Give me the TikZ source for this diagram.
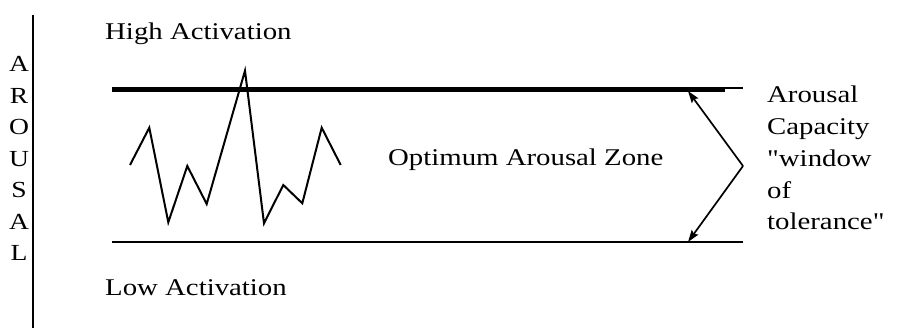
\documentclass[tikz,border=0pt]{standalone}
\usepackage{fontspec}
\newfontfamily\gfont{Liberation Serif}[FakeStretch=1.2]
\usetikzlibrary{arrows.meta}
\begin{document}
\begin{tikzpicture}[x=1pt,y=-1pt,
  lbl/.style={font=\gfont\fontsize{24}{28}\selectfont, inner sep=0pt, anchor=base west},
  axislbl/.style={font=\gfont\fontsize{23}{28}\selectfont, inner sep=0pt, anchor=base},
  thinline/.style={line width=2pt},
  thickline/.style={line width=5pt},
  zig/.style={line width=2pt, line join=miter},
  capar/.style={line width=1.7pt, -{Stealth[length=12pt,width=8pt,inset=2pt]}}]
\useasboundingbox (0,0) rectangle (906,328);
% vertical axis
\coordinate (axtop) at (33,15);
\coordinate (axbot) at (33,328);
\draw[thinline] (axtop) -- (axbot);
% AROUSAL letters
\node[axislbl] (l1) at (19,72) {A};
\node[axislbl] (l2) at (19,103.5) {R};
\node[axislbl] (l3) at (19,135) {O};
\node[axislbl] (l4) at (19,166.5) {U};
\node[axislbl] (l5) at (19,198) {S};
\node[axislbl] (l6) at (19,229.5) {A};
\node[axislbl] (l7) at (19,261) {L};
% labels
\node[lbl] (high) at (105,40) {High Activation};
\node[lbl] (low) at (105,296) {Low Activation};
\node[lbl] (zone) at (388,166) {Optimum Arousal Zone};
\node[lbl] (r1) at (767,103) {Arousal};
\node[lbl] (r2) at (767,135) {Capacity};
\node[lbl] (r3) at (767,167) {"window};
\node[lbl] (r4) at (767,198.5) {of};
\node[lbl] (r5) at (767,230) {tolerance"};
% boundary lines
\coordinate (topL) at (112,89.5);
\coordinate (topM) at (725,89.5);
\coordinate (topR) at (743,88);
\coordinate (topMt) at (725,88);
\coordinate (botL) at (112,242);
\coordinate (botR) at (743,242);
\draw[thickline] (topL) -- (topM);
\draw[thinline] (topMt) -- (topR);
\draw[thinline] (botL) -- (botR);
% zigzag
\draw[zig] (130,165) -- (149.3,127.7) -- (168.3,222.3) -- (187.3,166) -- (206.7,204)
  -- (245,70.7) -- (264,223.3) -- (283.3,185) -- (302.3,203.3) -- (321.7,127.7) -- (340.7,165);
% capacity arrows
\coordinate (vert) at (743,166);
\coordinate (tipT) at (688,91);
\coordinate (tipB) at (688,242);
\draw[capar] (vert) -- (tipT);
\draw[capar] (vert) -- (tipB);
\end{tikzpicture}
\end{document}
